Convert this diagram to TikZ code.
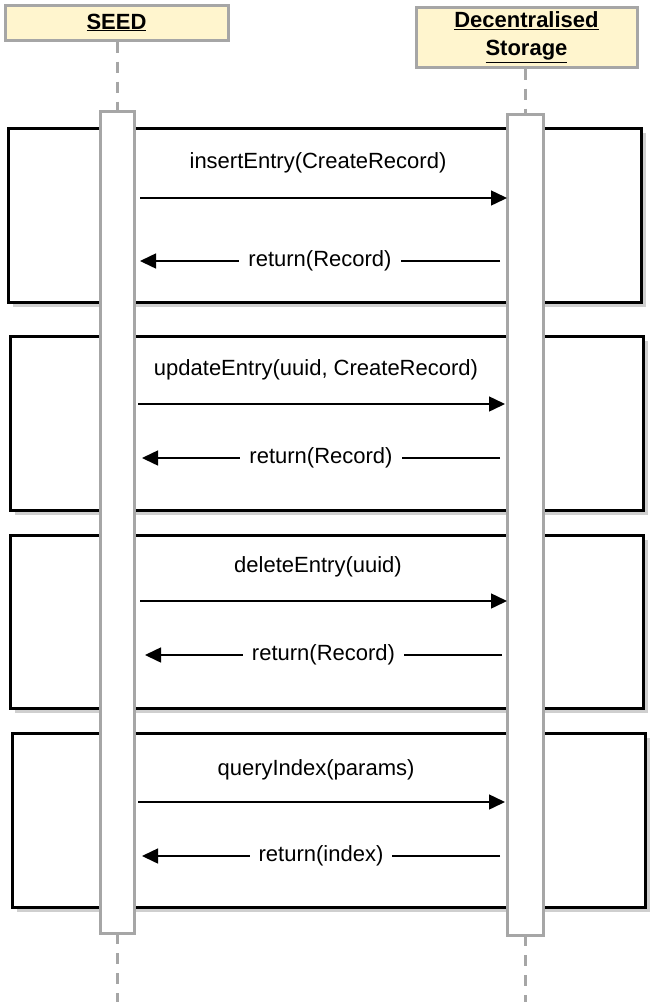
\documentclass[tikz,border=0pt]{standalone}
\usepackage{fontspec}
\setmainfont{Liberation Sans}
\usetikzlibrary{arrows.meta}
\definecolor{hdr}{HTML}{FFF5CE}
\definecolor{bargray}{HTML}{A6A6A6}
\definecolor{shadowgray}{HTML}{CFCFCF}
\tikzset{
  header/.style={draw=bargray, line width=3pt, fill=hdr, inner sep=0pt,
    font=\fontsize{22}{28}\selectfont\bfseries, align=center},
  actbar/.style={draw=bargray, line width=3pt, fill=white},
  lifeline/.style={draw=bargray, line width=3pt, dash pattern=on 11pt off 9pt},
  framebox/.style={draw=black, line width=3pt},
  frameshadow/.style={fill=shadowgray, draw=none},
  msg/.style={draw=black, line width=1.5pt, -{Triangle[length=16pt,width=15pt]}},
  msglabel/.style={font=\fontsize{22}{26}\selectfont, inner sep=0pt},
  retlabel/.style={font=\fontsize{22}{26}\selectfont, fill=white, inner xsep=9pt, inner ysep=2pt}
}
\begin{document}
\begin{tikzpicture}[x=1pt,y=-1pt]
\useasboundingbox (0,0) rectangle (651,1002);
% frames
\foreach \l/\t/\r/\b [count=\i] in {8/128/641/302, 10/336/643/510, 10/535/643/708, 12/733/645/907}{
  \fill[frameshadow] (\l+5,\t+5) rectangle (\r+5,\b+5);
  \fill[white] (\l,\t) rectangle (\r,\b);
  \draw[framebox] (\l,\t) rectangle (\r,\b);
}
% headers
\node[header, minimum width=223pt, minimum height=35pt] (seed) at (116.5,22.5) {\underline{SEED}};
\node[header, minimum width=221pt, minimum height=60pt] (store) at (526.5,37) {\underline{Decentralised}\\[0pt]\underline{Storage}};
% lifelines
\coordinate (s1) at (117,111); \coordinate (s2) at (117,933); \coordinate (s3) at (117,1002);
\coordinate (d1) at (525,114); \coordinate (d2) at (525,935); \coordinate (d3) at (525,1002);
\draw[lifeline] (seed.south -| s1) -- (s1);
\draw[lifeline] (store.south -| d1) -- (d1);
\draw[lifeline] (s2) -- (s3);
\draw[lifeline] (d2) -- (d3);
% activation bars
\node[actbar, minimum width=34pt, minimum height=822pt, inner sep=0pt] (seedbar) at (117,522) {};
\node[actbar, minimum width=36pt, minimum height=821pt, inner sep=0pt] (storebar) at (525,524.5) {};
% messages
\foreach \cy/\cl/\cr/\ry/\rl/\rr/\lx/\ly/\txt/\rtxt [count=\i] in {
  198/140/507/261/140/500/318/163/{insertEntry(CreateRecord)}/{return(Record)},
  404/138/505/458/142/500/316/370/{updateEntry(uuid, CreateRecord)}/{return(Record)},
  601/140/507/655/145/502/318/567/{deleteEntry(uuid)}/{return(Record)},
  802/138/505/856/142/500/316/770/{queryIndex(params)}/{return(index)}}{
  \coordinate (ca\i) at (\cl,\cy); \coordinate (cb\i) at (\cr,\cy);
  \coordinate (ra\i) at (\rr,\ry); \coordinate (rb\i) at (\rl,\ry);
  \node[msglabel] (lab\i) at (\lx,\ly) {\txt};
  \draw[msg] (ca\i) -- (cb\i);
  \draw[msg] (ra\i) -- node[retlabel] (rlab\i) {\rtxt} (rb\i);
}
\end{tikzpicture}
\end{document}
